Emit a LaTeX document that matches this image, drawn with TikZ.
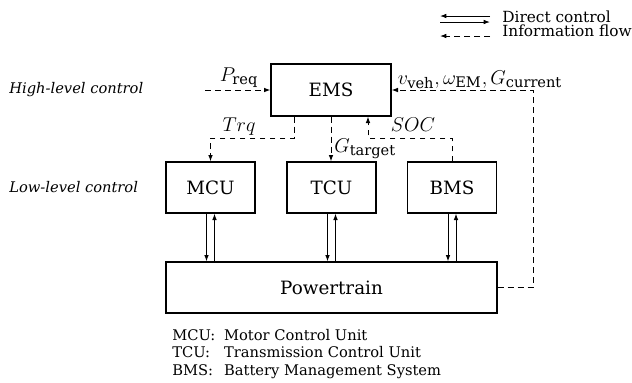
\documentclass[tikz,border=0pt]{standalone}
\usepackage{fontspec}
\setmainfont{DejaVu Serif}
\usepackage{amsmath}
\usetikzlibrary{positioning,calc,arrows.meta}

\begin{document}
\begin{tikzpicture}[
    x=0.6pt, y=-0.6pt,
    blk/.style={draw, line width=0.8pt, inner sep=0pt, font=\fontsize{11}{13}\selectfont},
    ctrl/.style={-{Latex[length=3.8pt,width=2.8pt]}, line width=0.6pt},
    info/.style={dash pattern=on 3.5pt off 2.5pt, -{Latex[length=3.8pt,width=2.8pt]}, line width=0.6pt},
    lbl/.style={inner sep=0pt, font=\fontsize{12.5}{14}\selectfont},
    txt/.style={inner sep=0pt, font=\fontsize{9.2}{11}\selectfont},
]
\useasboundingbox (0,0) rectangle (632,382);
% blocks
\node[blk, minimum width=72pt, minimum height=31.2pt] (ems) at (331,90) {EMS};
\node[blk, minimum width=53.4pt, minimum height=30.6pt] (mcu) at (210.5,187.5) {MCU};
\node[blk, minimum width=53.4pt, minimum height=30.6pt] (tcu) at (331.5,187.5) {TCU};
\node[blk, minimum width=53.4pt, minimum height=30.6pt] (bms) at (452,187.5) {BMS};
\node[blk, minimum width=198.6pt, minimum height=30.6pt] (pt) at (331.5,287.5) {Powertrain};
% levels
\node[txt, anchor=base west, font=\fontsize{8.8}{11}\selectfont\itshape] (hl) at (9,93) {High-level control};
\node[txt, anchor=base west, font=\fontsize{8.8}{11}\selectfont\itshape] (ll) at (9,192) {Low-level control};
% direct control
\foreach \n in {mcu,tcu,bms} {
  \draw[ctrl] ($(\n.south)+(-4,0)$) -- ($(\n.south |- pt.north)+(-4,0)$);
  \draw[ctrl] ($(\n.south |- pt.north)+(4,0)$) -- ($(\n.south)+(4,0)$);
}
% information flow
\coordinate (preq) at (205,90);
\coordinate (trq) at (294,138);
\coordinate (soc) at (368,138);
\coordinate (fb) at (533,90);
\draw[info] (preq) -- (ems.west);
\draw[info] (ems.south -| trq) -- (trq) -| (mcu.north);
\draw[info] (ems.south) -- (ems.south |- tcu.north);
\draw[info] (bms.north) |- (soc) -- (soc |- ems.south);
\draw[info] (pt.east) -| (fb) -- (ems.east);
\node[lbl, anchor=base] (lpreq) at (239,81) {$P_{\text{req}}$};
\node[lbl, anchor=base] (lfb) at (480,84) {$v_{\text{veh}}, \omega_{\text{EM}}, G_{\text{current}}$};
\node[lbl, anchor=base] (ltrq) at (239,131) {$Trq$};
\node[lbl, anchor=base] (lsoc) at (413,131) {$SOC$};
\node[lbl, anchor=base west] (lgt) at (334,152) {$G_{\text{target}}$};
% legend
\coordinate (la) at (440,16);
\coordinate (lb) at (490,16);
\coordinate (lc) at (440,22);
\coordinate (ld) at (490,22);
\coordinate (le) at (440,36);
\coordinate (lf) at (490,36);
\draw[ctrl] (lb) -- (la);
\draw[ctrl] (lc) -- (ld);
\draw[info] (lf) -- (le);
\node[txt, anchor=base west] (ldc) at (502,22) {Direct control};
\node[txt, anchor=base west] (lif) at (502,36) {Information flow};
% abbreviations
\node[txt, anchor=base west, font=\fontsize{8.8}{11}\selectfont] (abbr) at (172,340) {%
  \begin{tabular}[t]{@{}l@{\hspace{0.6em}}l@{}}
  MCU: & Motor Control Unit\\[-0.5pt]
  TCU: & Transmission Control Unit\\[-0.5pt]
  BMS: & Battery Management System
  \end{tabular}};
\end{tikzpicture}
\end{document}
